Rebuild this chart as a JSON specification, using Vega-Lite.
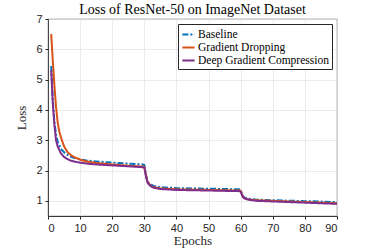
{
  "$schema": "https://vega.github.io/schema/vega-lite/v6.json",
  "autosize": {"type": "none"},
  "width": 289,
  "height": 197,
  "padding": {"left": 48, "top": 19, "right": 36, "bottom": 33},
  "background": "white",
  "title": {"text": "Loss of ResNet-50 on ImageNet Dataset", "font": "Liberation Serif", "fontSize": 14, "fontWeight": "normal", "color": "#000000", "offset": -4},
  "config": {
    "view": {"stroke": "#262626", "strokeWidth": 0.8},
    "axis": {"labelFont": "Liberation Sans", "labelFontSize": 11, "labelColor": "#262626", "titleFont": "Liberation Serif", "titleFontSize": 13, "titleFontWeight": "normal", "titleColor": "#262626", "gridColor": "#e6e6e6", "gridWidth": 0.8, "domainColor": "#262626", "domainWidth": 0.8, "tickColor": "#262626", "tickSize": 3}
  },
  "data": {"values": [
    {"epoch": 1, "loss": 5.45, "series": "Baseline"},
    {"epoch": 1.5, "loss": 4.3, "series": "Baseline"},
    {"epoch": 2, "loss": 3.6, "series": "Baseline"},
    {"epoch": 2.5, "loss": 3.2, "series": "Baseline"},
    {"epoch": 3, "loss": 2.95, "series": "Baseline"},
    {"epoch": 4, "loss": 2.72, "series": "Baseline"},
    {"epoch": 5, "loss": 2.6, "series": "Baseline"},
    {"epoch": 6, "loss": 2.52, "series": "Baseline"},
    {"epoch": 7, "loss": 2.46, "series": "Baseline"},
    {"epoch": 8, "loss": 2.42, "series": "Baseline"},
    {"epoch": 10, "loss": 2.37, "series": "Baseline"},
    {"epoch": 12, "loss": 2.33, "series": "Baseline"},
    {"epoch": 15, "loss": 2.3, "series": "Baseline"},
    {"epoch": 20, "loss": 2.26, "series": "Baseline"},
    {"epoch": 25, "loss": 2.23, "series": "Baseline"},
    {"epoch": 29.5, "loss": 2.2, "series": "Baseline"},
    {"epoch": 30, "loss": 2.18, "series": "Baseline"},
    {"epoch": 30.5, "loss": 1.85, "series": "Baseline"},
    {"epoch": 31, "loss": 1.63, "series": "Baseline"},
    {"epoch": 32, "loss": 1.53, "series": "Baseline"},
    {"epoch": 33, "loss": 1.49, "series": "Baseline"},
    {"epoch": 35, "loss": 1.45, "series": "Baseline"},
    {"epoch": 40, "loss": 1.42, "series": "Baseline"},
    {"epoch": 50, "loss": 1.4, "series": "Baseline"},
    {"epoch": 59.5, "loss": 1.38, "series": "Baseline"},
    {"epoch": 60, "loss": 1.36, "series": "Baseline"},
    {"epoch": 60.5, "loss": 1.2, "series": "Baseline"},
    {"epoch": 61, "loss": 1.12, "series": "Baseline"},
    {"epoch": 62, "loss": 1.08, "series": "Baseline"},
    {"epoch": 63, "loss": 1.06, "series": "Baseline"},
    {"epoch": 65, "loss": 1.04, "series": "Baseline"},
    {"epoch": 70, "loss": 1.02, "series": "Baseline"},
    {"epoch": 80, "loss": 0.99, "series": "Baseline"},
    {"epoch": 90, "loss": 0.96, "series": "Baseline"},
    {"epoch": 1, "loss": 6.5, "series": "Gradient Dropping"},
    {"epoch": 1.5, "loss": 5.6, "series": "Gradient Dropping"},
    {"epoch": 2, "loss": 4.8, "series": "Gradient Dropping"},
    {"epoch": 2.5, "loss": 4.1, "series": "Gradient Dropping"},
    {"epoch": 3, "loss": 3.6, "series": "Gradient Dropping"},
    {"epoch": 3.5, "loss": 3.3, "series": "Gradient Dropping"},
    {"epoch": 4, "loss": 3.1, "series": "Gradient Dropping"},
    {"epoch": 5, "loss": 2.8, "series": "Gradient Dropping"},
    {"epoch": 6, "loss": 2.62, "series": "Gradient Dropping"},
    {"epoch": 7, "loss": 2.52, "series": "Gradient Dropping"},
    {"epoch": 8, "loss": 2.45, "series": "Gradient Dropping"},
    {"epoch": 10, "loss": 2.36, "series": "Gradient Dropping"},
    {"epoch": 12, "loss": 2.3, "series": "Gradient Dropping"},
    {"epoch": 15, "loss": 2.25, "series": "Gradient Dropping"},
    {"epoch": 20, "loss": 2.2, "series": "Gradient Dropping"},
    {"epoch": 25, "loss": 2.16, "series": "Gradient Dropping"},
    {"epoch": 29.5, "loss": 2.13, "series": "Gradient Dropping"},
    {"epoch": 30, "loss": 2.12, "series": "Gradient Dropping"},
    {"epoch": 30.5, "loss": 1.85, "series": "Gradient Dropping"},
    {"epoch": 31, "loss": 1.62, "series": "Gradient Dropping"},
    {"epoch": 32, "loss": 1.5, "series": "Gradient Dropping"},
    {"epoch": 33, "loss": 1.45, "series": "Gradient Dropping"},
    {"epoch": 35, "loss": 1.41, "series": "Gradient Dropping"},
    {"epoch": 40, "loss": 1.38, "series": "Gradient Dropping"},
    {"epoch": 50, "loss": 1.36, "series": "Gradient Dropping"},
    {"epoch": 59.5, "loss": 1.34, "series": "Gradient Dropping"},
    {"epoch": 60, "loss": 1.33, "series": "Gradient Dropping"},
    {"epoch": 60.5, "loss": 1.18, "series": "Gradient Dropping"},
    {"epoch": 61, "loss": 1.1, "series": "Gradient Dropping"},
    {"epoch": 62, "loss": 1.06, "series": "Gradient Dropping"},
    {"epoch": 63, "loss": 1.04, "series": "Gradient Dropping"},
    {"epoch": 65, "loss": 1.02, "series": "Gradient Dropping"},
    {"epoch": 70, "loss": 1.0, "series": "Gradient Dropping"},
    {"epoch": 80, "loss": 0.96, "series": "Gradient Dropping"},
    {"epoch": 90, "loss": 0.92, "series": "Gradient Dropping"},
    {"epoch": 1, "loss": 5.3, "series": "Deep Gradient Compression"},
    {"epoch": 1.5, "loss": 4.2, "series": "Deep Gradient Compression"},
    {"epoch": 2, "loss": 3.5, "series": "Deep Gradient Compression"},
    {"epoch": 2.5, "loss": 3.0, "series": "Deep Gradient Compression"},
    {"epoch": 3, "loss": 2.8, "series": "Deep Gradient Compression"},
    {"epoch": 4, "loss": 2.57, "series": "Deep Gradient Compression"},
    {"epoch": 5, "loss": 2.45, "series": "Deep Gradient Compression"},
    {"epoch": 6, "loss": 2.38, "series": "Deep Gradient Compression"},
    {"epoch": 7, "loss": 2.33, "series": "Deep Gradient Compression"},
    {"epoch": 8, "loss": 2.3, "series": "Deep Gradient Compression"},
    {"epoch": 10, "loss": 2.26, "series": "Deep Gradient Compression"},
    {"epoch": 12, "loss": 2.23, "series": "Deep Gradient Compression"},
    {"epoch": 15, "loss": 2.2, "series": "Deep Gradient Compression"},
    {"epoch": 20, "loss": 2.17, "series": "Deep Gradient Compression"},
    {"epoch": 25, "loss": 2.14, "series": "Deep Gradient Compression"},
    {"epoch": 29.5, "loss": 2.11, "series": "Deep Gradient Compression"},
    {"epoch": 30, "loss": 2.1, "series": "Deep Gradient Compression"},
    {"epoch": 30.5, "loss": 1.82, "series": "Deep Gradient Compression"},
    {"epoch": 31, "loss": 1.6, "series": "Deep Gradient Compression"},
    {"epoch": 32, "loss": 1.48, "series": "Deep Gradient Compression"},
    {"epoch": 33, "loss": 1.43, "series": "Deep Gradient Compression"},
    {"epoch": 35, "loss": 1.39, "series": "Deep Gradient Compression"},
    {"epoch": 40, "loss": 1.36, "series": "Deep Gradient Compression"},
    {"epoch": 50, "loss": 1.34, "series": "Deep Gradient Compression"},
    {"epoch": 59.5, "loss": 1.32, "series": "Deep Gradient Compression"},
    {"epoch": 60, "loss": 1.31, "series": "Deep Gradient Compression"},
    {"epoch": 60.5, "loss": 1.16, "series": "Deep Gradient Compression"},
    {"epoch": 61, "loss": 1.09, "series": "Deep Gradient Compression"},
    {"epoch": 62, "loss": 1.05, "series": "Deep Gradient Compression"},
    {"epoch": 63, "loss": 1.03, "series": "Deep Gradient Compression"},
    {"epoch": 65, "loss": 1.0, "series": "Deep Gradient Compression"},
    {"epoch": 70, "loss": 0.98, "series": "Deep Gradient Compression"},
    {"epoch": 80, "loss": 0.94, "series": "Deep Gradient Compression"},
    {"epoch": 90, "loss": 0.9, "series": "Deep Gradient Compression"}
  ]},
  "mark": {"type": "line", "strokeWidth": 2, "clip": true},
  "encoding": {
    "x": {"field": "epoch", "type": "quantitative", "scale": {"domain": [0, 90], "nice": false, "zero": false},
      "axis": {"values": [0,10,20,30,40,50,60,70,80,90], "title": "Epochs", "titlePadding": 1, "labelPadding": 3}},
    "y": {"field": "loss", "type": "quantitative", "scale": {"domain": [0.5, 7], "nice": false, "zero": false},
      "axis": {"values": [1,2,3,4,5,6,7], "title": "Loss", "titlePadding": 7, "labelPadding": 3}},
    "color": {"field": "series", "type": "nominal",
      "scale": {"domain": ["Baseline", "Gradient Dropping", "Deep Gradient Compression"], "range": ["#0072BD", "#D95319", "#7E2F8E"]},
      "legend": {"title": null, "orient": "none", "legendX": 130, "legendY": 5, "labelFont": "Liberation Serif", "labelFontSize": 11.5, "labelColor": "#000000", "symbolType": "stroke", "symbolSize": 150, "symbolStrokeWidth": 2, "strokeColor": "#262626", "fillColor": "white", "padding": 3, "rowPadding": 0, "labelOffset": 2}},
    "strokeDash": {"field": "series", "type": "nominal",
      "scale": {"domain": ["Baseline", "Gradient Dropping", "Deep Gradient Compression"], "range": [[6, 2, 2, 2], [1, 0], [1, 0]]},
      "legend": null},
    "order": {"field": "series", "sort": "ascending"}
  }
}
